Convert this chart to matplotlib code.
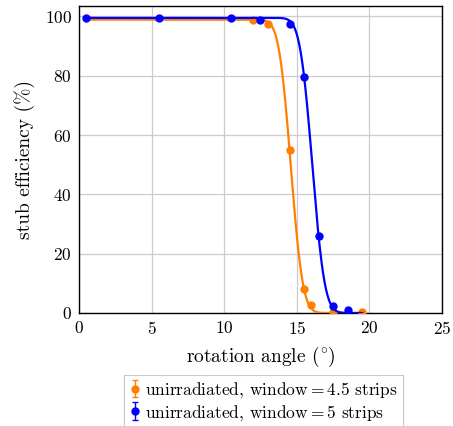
from math import erfc

import matplotlib.pyplot as plt
import numpy as np

plt.rcParams["font.family"] = ["cmr10", "DejaVu Serif"]
plt.rcParams["mathtext.fontset"] = "cm"
plt.rcParams["axes.formatter.use_mathtext"] = True

ORANGE = (1.0, 0.5, 0.0)
BLUE = (0.0, 0.0, 1.0)

# measured stub efficiency vs rotation angle
angle_45 = [12.0, 13.0, 14.5, 15.5, 16.0, 17.5, 19.5]
eff_45 = [98.8, 97.3, 54.8, 8.0, 2.7, 0.4, 0.4]
err_45 = [0.3, 0.3, 0.5, 0.3, 0.2, 0.1, 0.1]

angle_5 = [0.5, 5.5, 10.5, 12.5, 14.5, 15.5, 16.5, 17.5, 18.5]
eff_5 = [99.5, 99.5, 99.4, 98.8, 97.6, 79.6, 25.9, 2.3, 0.9]
err_5 = [0.2, 0.2, 0.2, 0.3, 0.3, 0.5, 0.5, 0.2, 0.1]

# erfc fit parameters: plateau, turn-on angle, width
fit_45 = (98.9, 14.59, 0.92)
fit_5 = (99.5, 16.07, 0.95)


def erfc_fit(x, plateau, mu, sigma):
    return np.array([0.5 * plateau * erfc((xi - mu) / sigma) for xi in x])


x_fit = np.linspace(0.5, 19.5, 600)

fig = plt.figure(figsize=(4.53, 4.26), dpi=100)
ax = fig.add_axes([0.1744, 0.2653, 0.8013, 0.7206])

ax.plot(x_fit, erfc_fit(x_fit, *fit_45), color=ORANGE, lw=1.6, zorder=3)
ax.errorbar(angle_45, eff_45, yerr=err_45, fmt="o", color=ORANGE, ms=5,
            capsize=2, elinewidth=1, zorder=4,
            label="unirradiated, window$=$4.5 strips")
ax.plot(x_fit, erfc_fit(x_fit, *fit_5), color=BLUE, lw=1.6, zorder=5)
ax.errorbar(angle_5, eff_5, yerr=err_5, fmt="o", color=BLUE, ms=5,
            capsize=2, elinewidth=1, zorder=6,
            label="unirradiated, window$=$5 strips")

ax.set_xlim(0, 25)
ax.set_ylim(0, 103.5)
ax.set_xticks([0, 5, 10, 15, 20, 25])
ax.set_yticks([0, 20, 40, 60, 80, 100])
ax.grid(True, color="#cccccc", lw=0.9)
ax.set_axisbelow(True)
ax.tick_params(length=0, labelsize=12.5, pad=5)
for spine in ax.spines.values():
    spine.set_linewidth(1.0)

ax.set_xlabel("rotation angle ($^{\\!\\circ}\\!$)", fontsize=14, labelpad=6)
ax.set_ylabel("stub efficiency (%)", fontsize=14, labelpad=7)

leg = fig.legend(loc="upper center", bbox_to_anchor=(0.5817, 0.1197),
                 fontsize=12.5, frameon=True, fancybox=False, edgecolor="#bbbbbb",
                 handlelength=0.6, handletextpad=0.3, borderpad=0.3,
                 labelspacing=0.15, borderaxespad=0)
leg.get_frame().set_linewidth(0.8)

fig.savefig("out.png", dpi=100)
plt.close(fig)
